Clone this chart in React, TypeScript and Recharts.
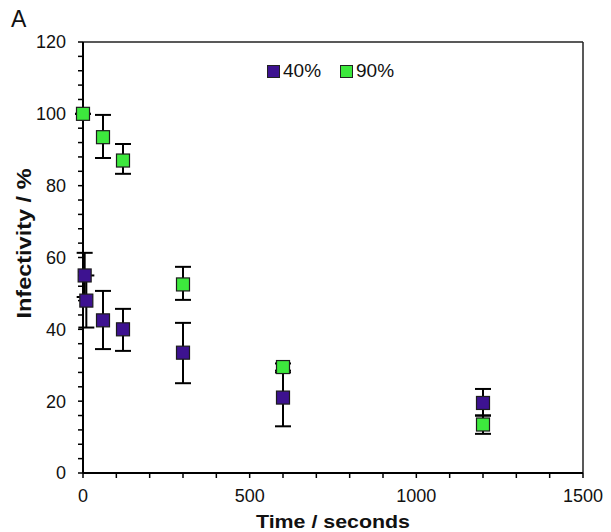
import React from "react";
import {
  ErrorBar,
  Legend,
  ReferenceLine,
  Scatter,
  ScatterChart,
  XAxis,
  YAxis,
} from "recharts";

// 40% relative humidity
const times40 = [5, 10, 60, 120, 300, 600, 1200];
const values40 = [55, 48, 42.5, 40, 33.5, 21, 19.5];
const errors40 = [
  [6, 6.3],
  [7.5, 7],
  [8, 8.2],
  [6, 5.7],
  [8.5, 8.3],
  [8, 7],
  [3.5, 3.9],
];

// 90% relative humidity
const times90 = [0, 60, 120, 300, 600, 1200];
const values90 = [100, 93.5, 87, 52.5, 29.5, 13.5];
const errors90 = [
  [0, 0],
  [5.8, 6.2],
  [3.7, 4.6],
  [4.3, 4.9],
  [1, 1],
  [2.6, 2.5],
];

const seriesNames = ["40%", "90%"];
const seriesColors = ["#3D1290", "#3DE83D"];

const xMajor = [0, 500, 1000, 1500];
const yMajor = [0, 20, 40, 60, 80, 100, 120];
const xTicks = Array.from({ length: 16 }, (_, i) => i * 100);
const yTicks = Array.from({ length: 31 }, (_, i) => i * 4);

const data40 = times40.map((t, i) => ({ t, v: values40[i], err: errors40[i] }));
const data90 = times90.map((t, i) => ({ t, v: values90[i], err: errors90[i] }));

const FONT = "'Liberation Sans', Arial, sans-serif";

const SquareDot = (props: any) => {
  const { cx, cy, fill } = props;
  if (cx == null || cy == null) return null;
  return (
    <rect
      x={cx - 6.5}
      y={cy - 6.5}
      width={13}
      height={13}
      fill={fill}
      stroke="#1c1c1c"
      strokeWidth={1.2}
    />
  );
};

const LegendBox = () => (
  <div style={{ display: "flex", alignItems: "center", fontFamily: FONT, fontSize: 19, color: "#111" }}>
    {seriesNames.map((name, i) => (
      <div key={name} style={{ display: "flex", alignItems: "center", marginRight: i === 0 ? 19 : 0 }}>
        <span
          style={{
            display: "inline-block",
            width: 11,
            height: 11,
            background: seriesColors[i],
            border: "1px solid #222",
            marginRight: 3,
          }}
        />
        <span>{name}</span>
      </div>
    ))}
  </div>
);

const XTitle = (props: any) => {
  const vb = props.viewBox || { x: 83, y: 473, width: 500, height: 59 };
  return (
    <text
      x={vb.x + vb.width / 2}
      y={vb.y + 55}
      textAnchor="middle"
      fontFamily={FONT}
      fontWeight="bold"
      fontSize={19}
      fill="#111"
      textLength={154}
      lengthAdjust="spacingAndGlyphs"
    >
      Time / seconds
    </text>
  );
};

const YTitle = (props: any) => {
  const vb = props.viewBox || { x: 0, y: 42, width: 83, height: 431 };
  const cx = 31;
  const cy = vb.y + vb.height / 2 - 14;
  return (
    <text
      x={cx}
      y={cy}
      transform={`rotate(-90, ${cx}, ${cy})`}
      textAnchor="middle"
      fontFamily={FONT}
      fontWeight="bold"
      fontSize={20}
      fill="#111"
      textLength={150}
      lengthAdjust="spacingAndGlyphs"
    >
      Infectivity / %
    </text>
  );
};

export default function App() {
  return (
    <div style={{ position: "absolute", left: 0, top: 0, width: 611, height: 532, background: "#fff" }}>
      <div
        style={{
          position: "absolute",
          left: 11,
          top: 6,
          fontFamily: FONT,
          fontSize: 23,
          color: "#111",
          zIndex: 2,
        }}
      >
        A
      </div>
      <ScatterChart
        width={611}
        height={532}
        margin={{ top: 42, right: 28, bottom: 0, left: 0 }}
      >
        <XAxis
          type="number"
          dataKey="t"
          domain={[0, 1500]}
          ticks={xTicks}
          interval={0}
          tickFormatter={(v: number) => (xMajor.includes(v) ? String(v) : "")}
          height={59}
          axisLine={{ stroke: "#000", strokeWidth: 2 }}
          tickLine={{ stroke: "#000", strokeWidth: 1.5 }}
          tickSize={5}
          tickMargin={11}
          tick={{ fill: "#111", fontSize: 18, fontFamily: FONT }}
          label={{ content: XTitle }}
        />
        <YAxis
          type="number"
          dataKey="v"
          domain={[0, 120]}
          ticks={yTicks}
          interval={0}
          tickFormatter={(v: number) => (yMajor.includes(v) ? String(v) : "")}
          width={83}
          axisLine={{ stroke: "#000", strokeWidth: 2 }}
          tickLine={{ stroke: "#000", strokeWidth: 1.5 }}
          tickSize={5}
          tickMargin={12}
          tick={{ fill: "#111", fontSize: 18, fontFamily: FONT }}
          label={{ content: YTitle }}
        />
        <ReferenceLine y={120} stroke="#222" strokeWidth={1.5} />
        <ReferenceLine x={1500} stroke="#222" strokeWidth={1.5} />
        <Legend
          layout="vertical"
          align="center"
          verticalAlign="middle"
          content={LegendBox}
          wrapperStyle={{ top: 60, left: 267, width: "auto" }}
        />
        <Scatter
          name={seriesNames[0]}
          data={data40}
          fill={seriesColors[0]}
          shape={SquareDot}
          isAnimationActive={false}
        >
          <ErrorBar dataKey="err" direction="y" width={8} stroke="#000" strokeWidth={2} zIndex={550} />
        </Scatter>
        <Scatter
          name={seriesNames[1]}
          data={data90}
          fill={seriesColors[1]}
          shape={SquareDot}
          isAnimationActive={false}
        >
          <ErrorBar dataKey="err" direction="y" width={8} stroke="#000" strokeWidth={2} zIndex={550} />
        </Scatter>
      </ScatterChart>
    </div>
  );
}
